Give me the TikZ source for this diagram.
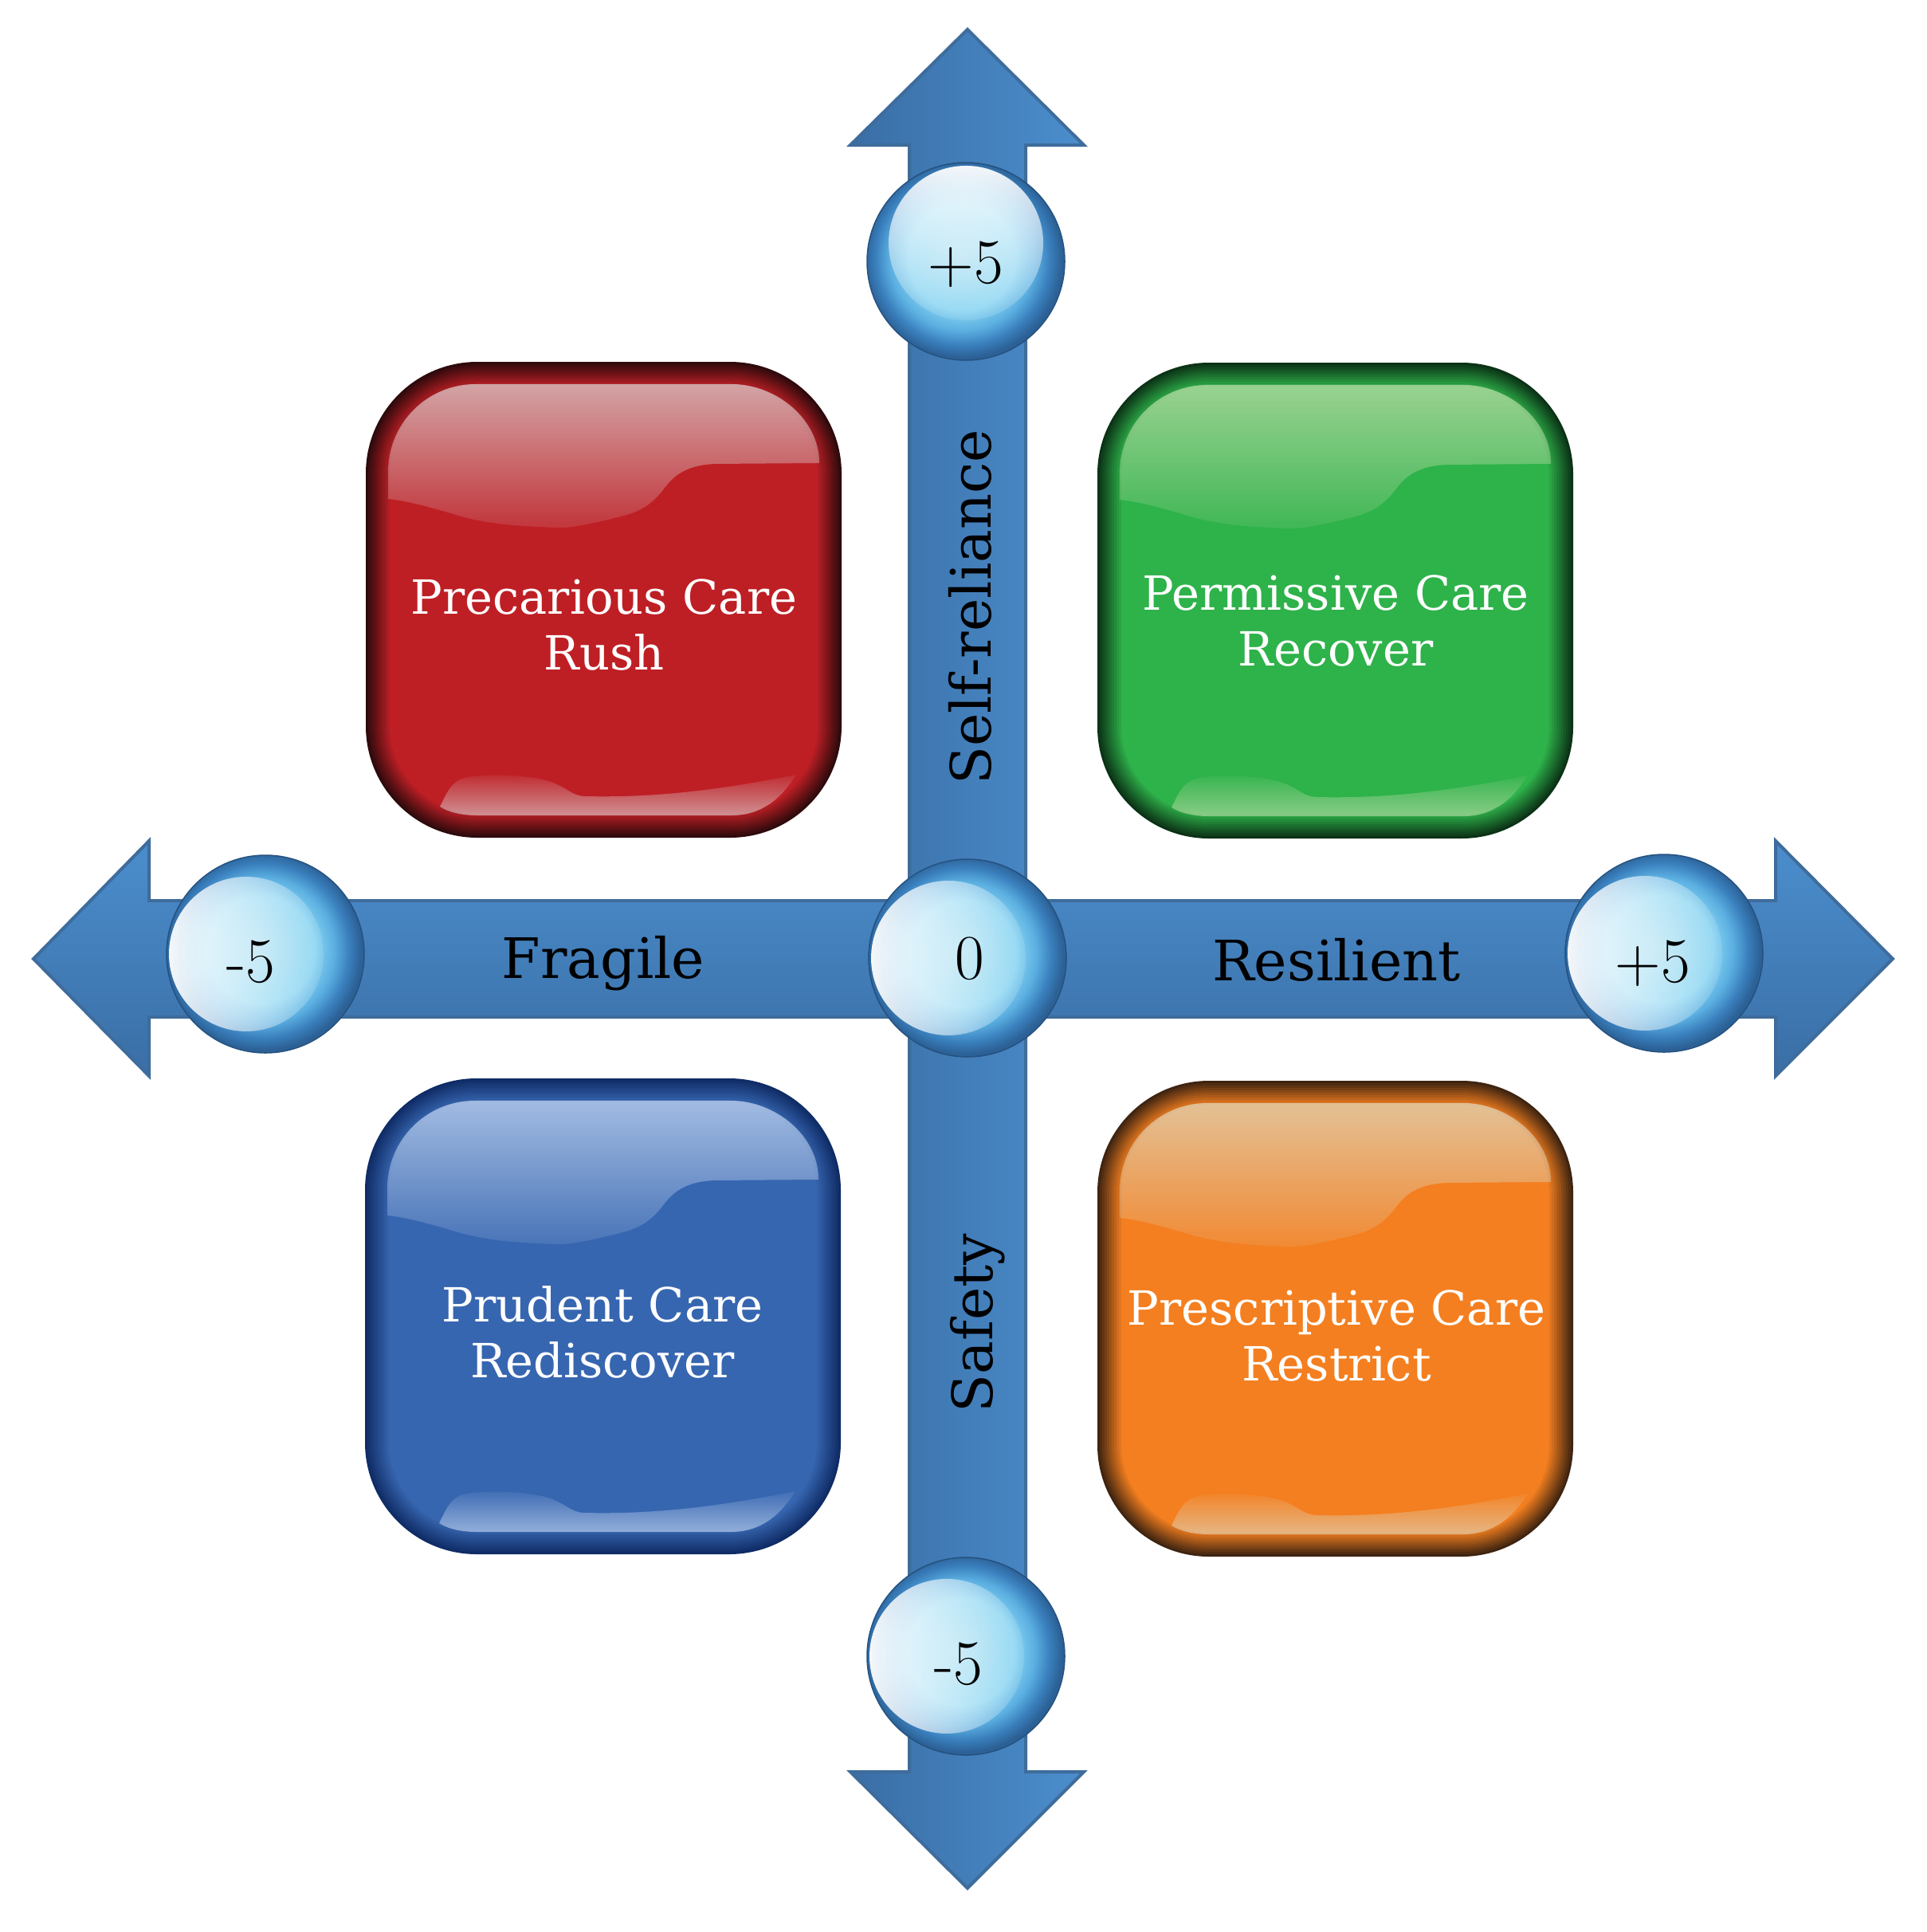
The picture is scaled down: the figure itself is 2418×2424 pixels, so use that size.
\documentclass[tikz,border=0pt]{standalone}
\usepackage{fontspec}
\setmainfont{DejaVu Serif}
\newfontfamily\numfont{Latin Modern Roman}
\usetikzlibrary{fadings,shadings,calc}

\definecolor{arrA}{HTML}{4B8ECD}
\definecolor{arrB}{HTML}{3A6EA5}
\definecolor{arrEdge}{HTML}{3E6C9C}
\definecolor{sph1}{HTML}{A2DCF0}
\definecolor{sph2}{HTML}{86D4F2}
\definecolor{sph3}{HTML}{5AAEE0}
\definecolor{sph4}{HTML}{3A80BE}
\definecolor{sph5}{HTML}{2C6196}
\definecolor{redM}{HTML}{BE1F25}
\definecolor{redR}{HTML}{2E0A0C}
\definecolor{grnM}{HTML}{2EB24A}
\definecolor{grnR}{HTML}{0B3216}
\definecolor{bluM}{HTML}{3766B0}
\definecolor{bluR}{HTML}{0F2C66}
\definecolor{orgM}{HTML}{F47F20}
\definecolor{orgR}{HTML}{3F2410}
\definecolor{redG}{HTML}{DDDDDD}
\definecolor{grnG}{HTML}{C8E0B0}
\definecolor{bluG}{HTML}{D0E0F8}
\definecolor{orgG}{HTML}{DDDDC8}

% a fitted radial shading has the path's edge at 25bp
\pgfdeclareradialshading{sphereshade}{\pgfpoint{-1.5bp}{1.5bp}}{%
  color(0bp)=(sph1); color(13.5bp)=(sph2); color(18.5bp)=(sph3);
  color(22bp)=(sph4); color(25bp)=(sph5); color(50bp)=(sph5)}

\tikzfading[name=glosstop, top color=transparent!30, bottom color=transparent!88]
\tikzfading[name=glossbot, top color=transparent!95, bottom color=transparent!40]
\tikzfading[name=hlleft, left color=transparent!5, middle color=transparent!75, right color=transparent!90]
\tikzfading[name=hltop, top color=transparent!5, middle color=transparent!75, bottom color=transparent!90]

% glossy rounded box: #1 x, #2 y (top-left), #3 main colour, #4 rim colour, #5 gloss colour
\newcommand\glossbox[5]{%
  \begin{scope}[shift={(#1,#2)}]
    \foreach \i in {0,...,10}{%
      \pgfmathtruncatemacro\mixp{\i*10}%
      \pgfmathsetmacro\rr{1.40-0.03*\i}%
      \fill[#3!\mixp!#4, rounded corners=\rr cm] (\i*3,\i*3) rectangle (597-\i*3,597-\i*3);
    }
    \fill[#5, path fading=glosstop]
      (28,172) -- (28,138) .. controls (28,77) and (77,28) .. (138,28)
      -- (459,28) .. controls (515,28) and (569,72) .. (569,127)
      -- (440,128) .. controls (400,129) and (385,145) .. (375,158)
      .. controls (360,178) and (345,188) .. (320,194)
      .. controls (280,204) and (255,209) .. (239,208)
      .. controls (180,206) and (150,202) .. (120,194)
      .. controls (80,182) and (50,174) .. (28,172) -- cycle;
    \fill[#5, path fading=glossbot]
      (93,558) .. controls (100,545) and (105,528) .. (123,522)
      .. controls (150,516) and (210,518) .. (235,528)
      .. controls (255,536) and (258,544) .. (275,545)
      .. controls (360,547) and (440,538) .. (540,518)
      .. controls (520,550) and (495,569) .. (459,569)
      -- (140,569) .. controls (118,569) and (102,564) .. (93,558) -- cycle;
  \end{scope}}

% glass ball: #1 name, #2 centre, #3 highlight offset, #4 fading
\newcommand\glassball[4]{%
  \coordinate (#1) at (#2);
  \shade[shading=sphereshade] (#1) circle[radius=124];
  \begin{scope}
    \clip (#1) circle[radius=124];
    \fill[white, path fading=#4] ($(#1)+#3$) circle[radius=97];
  \end{scope}
  \draw[sph5!85!black, line width=0.015cm] (#1) circle[radius=124];}

\begin{document}
\begin{tikzpicture}[x=0.01cm,y=-0.01cm,
  boxtext/.style={text=white, align=center, font=\fontsize{16.8}{19.9}\selectfont, inner sep=0pt, anchor=base},
  axislabel/.style={text=black, font=\fontsize{19.9}{24}\selectfont, inner sep=0pt, anchor=base},
  numlabel/.style={text=black, font=\numfont\fontsize{22.7}{26}\selectfont, inner sep=0pt, anchor=base},
  arrowbody/.style={draw=arrEdge, line width=0.04cm, line join=miter}]
\fill[white] (0,0) rectangle (2418,2424);
\useasboundingbox (0,0) rectangle (2418,2424);

% axes
\shade[arrowbody, top color=arrA, bottom color=arrB]
  (42,1203) -- (187,1055) -- (187,1130) -- (2228,1130) -- (2228,1055) -- (2375,1203)
  -- (2228,1350) -- (2228,1276) -- (187,1276) -- (187,1350) -- cycle;
\shade[arrowbody, left color=arrB, right color=arrA]
  (1214,37) -- (1360,182) -- (1287,182) -- (1287,2223) -- (1360,2223) -- (1214,2369)
  -- (1067,2223) -- (1141,2223) -- (1141,182) -- (1067,182) -- cycle;

% boxes
\glossbox{459}{454}{redM}{redR}{redG}
\glossbox{1377}{455}{grnM}{grnR}{grnG}
\glossbox{458}{1353}{bluM}{bluR}{bluG}
\glossbox{1377}{1356}{orgM}{orgR}{orgG}

% anchor=base is the baseline of the last line
\node[boxtext] (precarious) at (758,840) {Precarious Care\\Rush};
\node[boxtext] (permissive) at (1676,835) {Permissive Care\\Recover};
\node[boxtext] (prudent) at (756,1728) {Prudent Care\\Rediscover};
\node[boxtext] (prescriptive) at (1677,1732) {Prescriptive Care\\Restrict};

% axis labels
\node[axislabel] (fragile) at (757,1227) {Fragile};
\node[axislabel] (resilient) at (1677,1230) {Resilient};
\node[axislabel, rotate=90] (selfrel) at (1243,762) {Self-reliance};
\node[axislabel, rotate=90] (safety) at (1245,1660) {Safety};

% balls
\glassball{btop}{1212,328}{(0,-23)}{hltop}
\glassball{bcen}{1214,1202}{(-24,0)}{hlleft}
\glassball{bright}{2088,1196}{(-24,0)}{hlleft}
\glassball{bleft}{333,1197}{(-24,0)}{hlleft}
\glassball{bbot}{1212,2078}{(-24,0)}{hlleft}

\node[numlabel] (ntop) at (1212,355) {+5};
\node[numlabel] (ncen) at (1217,1228) {0};
\node[numlabel] (nright) at (2074,1232) {+5};
\node[numlabel] (nleft) at (315,1232) {-5};
\node[numlabel] (nbot) at (1203,2113) {-5};
\end{tikzpicture}
\end{document}
